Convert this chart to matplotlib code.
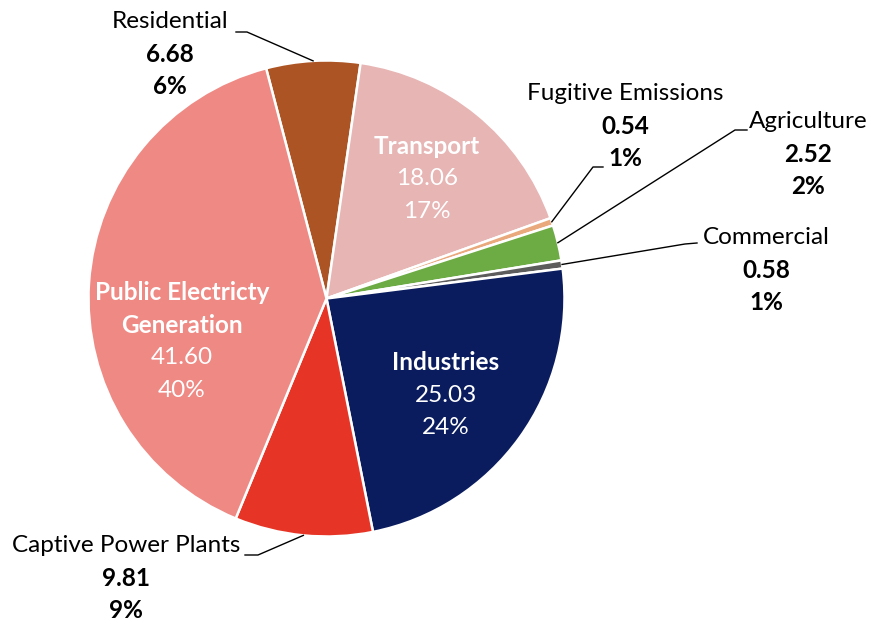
import numpy as np
import matplotlib.pyplot as plt

plt.rcParams['font.family'] = ['Lato', 'DejaVu Sans']

# Emissions by sector, in clockwise order starting from Residential
sectors = ['Residential', 'Transport', 'Fugitive Emissions', 'Agriculture',
           'Commercial', 'Industries', 'Captive Power Plants',
           'Public Electricty\nGeneration']
values = [6.68, 18.06, 0.54, 2.52, 0.58, 25.03, 9.81, 41.60]
colors = ['#AD5424', '#E6B5B4', '#E9A97C', '#6DAB45', '#5C5C5C',
          '#0A1C5E', '#E63526', '#EF8984']

W, H = 872, 622
fig = plt.figure(figsize=(W / 100, H / 100), dpi=100)
ax = fig.add_axes([0, 0, 1, 1])

cx, cy, r = 326.5, H - 298.5, 238
start = 104.7
wedges, _ = ax.pie(values, colors=colors, startangle=start, counterclock=False,
                   center=(cx, cy), radius=r, frame=True,
                   wedgeprops=dict(edgecolor='white', linewidth=1.8))
ax.set_xlim(0, W)
ax.set_ylim(0, H)
ax.set_aspect('equal')
ax.axis('off')

total = sum(values)
pcts = [f'{round(v / total * 100):.0f}%' for v in values]

fs = 17.5
lh = 32.5

def label(x, y, name, val, pct, color, name_bold):
    lines = name.split('\n') + [f'{val:.2f}', pct]
    nlines = len(name.split('\n'))
    for i, s in enumerate(lines):
        is_name = i < nlines
        bold = name_bold if is_name else not name_bold
        ax.text(x, H - (y + i * lh), s, ha='center', va='center', fontsize=fs,
                color=color, fontweight='bold' if bold else 'normal')

# inside labels (white)
inside = {'Transport': (427, 146),
          'Industries': (446, 363),
          'Public Electricty\nGeneration': (182, 293)}
# outside labels with leader lines: text position, elbow, end of horizontal
outside = {'Residential': ((170, 22), (247, 32), (236, 32)),
           'Fugitive Emissions': ((625, 94), (593, 167), (603, 167)),
           'Agriculture': ((808, 122), (735, 130), (747, 130)),
           'Commercial': ((766, 238), (685, 244), (697, 243)),
           'Captive Power Plants': ((126, 546), (258, 555), (245, 555))}

angles = np.cumsum([0] + values) / total * 360
for i, (name, v) in enumerate(zip(sectors, values)):
    if name in inside:
        x, y = inside[name]
        label(x, y, name, v, pcts[i], 'white', True)
    else:
        (tx, ty), (ex, ey), (hx, hy) = outside[name]
        mid = np.deg2rad(start - (angles[i] + angles[i + 1]) / 2)
        px, py = cx + r * np.cos(mid), cy + r * np.sin(mid)
        ax.plot([px, ex, hx], [py, H - ey, H - hy], color='black', lw=1.0)
        label(tx, ty, name, v, pcts[i], 'black', False)

fig.savefig('out.png', dpi=100)
